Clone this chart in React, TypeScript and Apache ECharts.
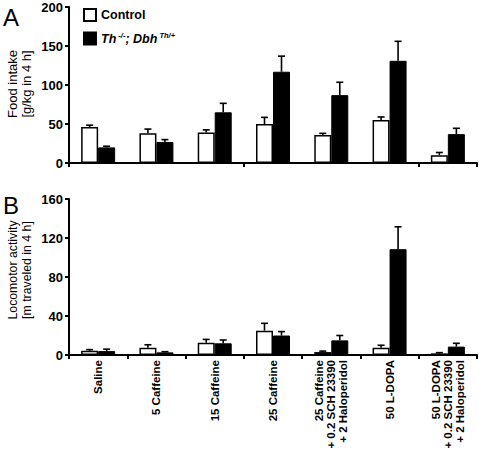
import React, { useEffect, useRef } from "react";
import * as echarts from "echarts";

const categories = [
  "Saline",
  "5 Caffeine",
  "15 Caffeine",
  "25 Caffeine",
  "25 Caffeine\n+ 0.2 SCH 23390\n+ 2 Haloperidol",
  "50 L-DOPA",
  "50 L-DOPA\n+ 0.2 SCH 23390\n+ 2 Haloperidol",
];

const foodControl = [46, 38, 39, 50, 36, 55, 10];
const foodControlSem = [2.5, 5.5, 3.5, 8.5, 2, 4, 3.5];
const foodMutant = [20, 27, 65, 117, 87, 131, 37];
const foodMutantSem = [1.5, 3, 11.5, 20, 16.5, 25, 7.5];

const locoControl = [4.4, 7.5, 12.6, 25, 3, 7.5, 1.7];
const locoControlSem = [1.1, 3, 3.4, 7.5, 1, 2.5, 0.7];
const locoMutant = [4, 2.7, 12, 20, 15, 108.5, 8.6];
const locoMutantSem = [2, 0.7, 3.4, 4, 5, 23, 3.4];

const foodTicks = { min: 0, max: 200, interval: 50 };
const locoTicks = { min: 0, max: 160, interval: 40 };

const foodName = "Food intake\n[g/kg in 4 h]";
const locoName = "Locomotor activity\n[m traveled in 4 h]";

const FONT = "'Liberation Sans', Arial, Helvetica, sans-serif";
const BAR_W = 17;

function errorSeries(vals: number[], sems: number[], offset: number, gridIdx: number) {
  return {
    type: "custom",
    xAxisIndex: gridIdx,
    yAxisIndex: gridIdx,
    silent: true,
    z: 3,
    encode: { x: 0, y: 1 },
    data: vals.map((v, i) => [i, v, sems[i]]),
    renderItem: (_params: any, api: any) => {
      const idx = api.value(0);
      const v = api.value(1);
      const e = api.value(2);
      const base = api.coord([idx, v]);
      const top = api.coord([idx, v + e]);
      const x = base[0] + offset;
      const st = { stroke: "#000", lineWidth: 1.6 };
      return {
        type: "group",
        children: [
          { type: "line", shape: { x1: x, y1: base[1], x2: x, y2: top[1] }, style: st },
          { type: "line", shape: { x1: x - 3.5, y1: top[1], x2: x + 3.5, y2: top[1] }, style: st },
        ],
      };
    },
  };
}

export default function App() {
  const ref = useRef<HTMLDivElement>(null);
  useEffect(() => {
    if (!ref.current) return;
    const chart = echarts.init(ref.current, null, { renderer: "svg" });
    const axisCommon = {
      axisLine: { show: true, lineStyle: { color: "#000", width: 2 } },
      axisTick: { show: true, length: 4, lineStyle: { color: "#000", width: 2 } },
      splitLine: { show: false },
    };
    const yLabel = {
      color: "#000",
      fontWeight: "bold",
      fontSize: 13,
      fontFamily: FONT,
      margin: 6,
    };
    const controlStyle = { color: "#fff", borderColor: "#000", borderWidth: 1.5 };
    const mutantStyle = { color: "#000", borderColor: "#000", borderWidth: 1 };

    chart.setOption({
      animation: false,
      backgroundColor: "#fff",
      textStyle: { fontFamily: FONT },
      grid: [
        { left: 69, top: 7, width: 408, height: 156 },
        { left: 69, top: 199, width: 408, height: 156 },
      ],
      legend: {
        orient: "vertical",
        left: 83,
        top: 8,
        padding: 0,
        icon: "rect",
        itemWidth: 12,
        itemHeight: 12,
        itemGap: 9,
        itemTextGap: 6,
        data: ["Control", "Th"],
        textStyle: {
          color: "#000",
          fontWeight: "bold",
          fontSize: 12.5,
          fontFamily: FONT,
          rich: {
            i: { fontStyle: "italic", fontWeight: "bold", fontSize: 12.5, fontFamily: FONT, lineHeight: 15, color: "#000" },
            s: { fontStyle: "italic", fontWeight: "bold", fontSize: 7.5, fontFamily: FONT, lineHeight: 15, verticalAlign: "top", color: "#000" },
          },
        },
        formatter: (name: string) =>
          name === "Control" ? "Control" : "{i|Th}{s| -/-}{i|; Dbh}{s| Th/+}",
      },
      graphic: [
        { type: "text", left: 3, top: 5, style: { text: "A", fontSize: 24, fontFamily: FONT, fill: "#000" } },
        { type: "text", left: 3, top: 193, style: { text: "B", fontSize: 24, fontFamily: FONT, fill: "#000" } },
        {
          type: "text",
          x: 19.5,
          y: 84,
          rotation: Math.PI / 2,
          style: { text: foodName, fontSize: 13, lineHeight: 14, fontFamily: FONT, fill: "#000", align: "center", verticalAlign: "middle" },
        },
        {
          type: "text",
          x: 19.5,
          y: 270,
          rotation: Math.PI / 2,
          style: { text: locoName, fontSize: 12.3, lineHeight: 14, fontFamily: FONT, fill: "#000", align: "center", verticalAlign: "middle" },
        },
      ],
      xAxis: [
        {
          type: "category",
          gridIndex: 0,
          data: categories,
          ...axisCommon,
          axisLabel: { show: false },
        },
        {
          type: "category",
          gridIndex: 1,
          data: categories,
          ...axisCommon,
          axisLabel: {
            interval: 0,
            rotate: 90,
            color: "#000",
            fontWeight: "bold",
            fontSize: 11.5,
            lineHeight: 12,
            fontFamily: FONT,
            margin: 5,
          },
        },
      ],
      yAxis: [
        { type: "value", gridIndex: 0, ...foodTicks, ...axisCommon, axisLabel: yLabel },
        { type: "value", gridIndex: 1, ...locoTicks, ...axisCommon, axisLabel: yLabel },
      ],
      series: [
        { name: "Control", type: "bar", xAxisIndex: 0, yAxisIndex: 0, data: foodControl, barWidth: BAR_W, barGap: "0%", itemStyle: controlStyle },
        { name: "Th", type: "bar", xAxisIndex: 0, yAxisIndex: 0, data: foodMutant, barWidth: BAR_W, barGap: "0%", itemStyle: mutantStyle },
        { name: "Control", type: "bar", xAxisIndex: 1, yAxisIndex: 1, data: locoControl, barWidth: BAR_W, barGap: "0%", itemStyle: controlStyle },
        { name: "Th", type: "bar", xAxisIndex: 1, yAxisIndex: 1, data: locoMutant, barWidth: BAR_W, barGap: "0%", itemStyle: mutantStyle },
        errorSeries(foodControl, foodControlSem, -BAR_W / 2, 0),
        errorSeries(foodMutant, foodMutantSem, BAR_W / 2, 0),
        errorSeries(locoControl, locoControlSem, -BAR_W / 2, 1),
        errorSeries(locoMutant, locoMutantSem, BAR_W / 2, 1),
      ],
    });
    return () => chart.dispose();
  }, []);
  return <div ref={ref} style={{ width: 479, height: 460, position: "absolute", left: 0, top: 0 }} />;
}
